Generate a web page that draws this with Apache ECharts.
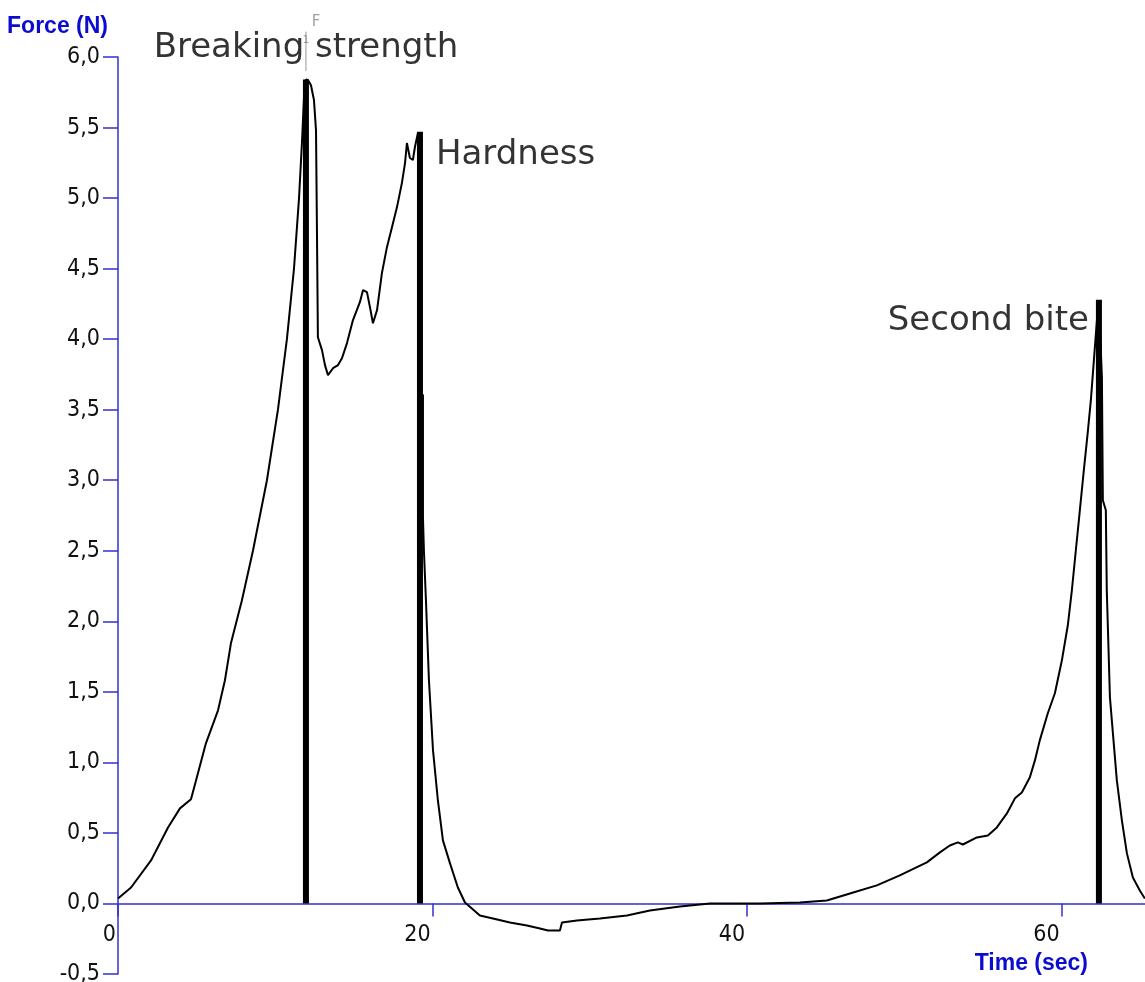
<!DOCTYPE html>
<html>
<head>
<meta charset="utf-8">
<script src="https://cdn.jsdelivr.net/npm/echarts@6/dist/echarts.min.js"></script>
<style>
html,body{margin:0;padding:0;background:#fff;}
#chart{width:1145px;height:982px;}
</style>
</head>
<body>
<div id="chart"></div>
<script>
// Time (sec) and force (N)
const timeSec = [0.00,0.83,2.10,3.18,3.94,4.64,4.96,5.59,6.36,6.80,7.18,7.88,8.58,9.47,10.17,10.74,11.19,11.51,11.70,11.82,11.95,12.08,12.27,12.46,12.59,12.65,12.71,12.97,13.16,13.35,13.67,13.99,14.24,14.56,14.94,15.38,15.58,15.83,16.02,16.21,16.47,16.78,17.10,17.42,17.74,18.05,18.25,18.37,18.56,18.75,18.88,19.07,19.20,19.26,19.39,19.39,19.45,19.58,19.77,20.03,20.34,20.66,21.11,21.61,22.06,22.50,23.01,23.84,24.92,26.00,26.83,27.34,28.10,28.23,29.18,30.64,32.36,33.82,35.73,37.64,40.81,43.36,45.07,46.54,48.25,49.71,51.43,52.26,52.89,53.40,53.72,54.61,55.31,55.88,56.52,57.03,57.47,57.98,58.30,58.61,59.12,59.57,60.01,60.39,60.65,60.90,61.16,61.41,61.67,61.86,62.05,62.24,62.36,62.56,62.62,62.81,62.87,63.07,63.26,63.51,63.83,64.15,64.53,64.97,65.29];
const forceN = [0.035,0.113,0.305,0.539,0.674,0.738,0.872,1.135,1.369,1.582,1.844,2.149,2.500,3.000,3.500,4.000,4.500,5.000,5.400,5.700,5.840,5.837,5.800,5.695,5.480,4.770,4.014,3.922,3.816,3.745,3.794,3.816,3.865,3.972,4.135,4.262,4.348,4.333,4.227,4.113,4.206,4.468,4.652,4.794,4.936,5.106,5.248,5.390,5.284,5.270,5.362,5.461,5.447,3.617,3.603,2.738,2.504,2.149,1.582,1.085,0.730,0.447,0.284,0.113,0.007,-0.035,-0.085,-0.106,-0.135,-0.156,-0.177,-0.191,-0.191,-0.135,-0.121,-0.106,-0.085,-0.050,-0.021,0.000,0.000,0.007,0.021,0.071,0.128,0.199,0.291,0.362,0.411,0.433,0.418,0.468,0.482,0.539,0.638,0.745,0.787,0.894,1.014,1.156,1.348,1.490,1.720,1.970,2.220,2.500,2.790,3.070,3.350,3.570,3.850,4.130,4.277,3.730,2.858,2.787,2.220,1.461,1.206,0.872,0.589,0.355,0.184,0.092,0.035];

// Marked events (thick bars)
const markerTime = [11.95, 19.20, 62.37];
const markerForce = [5.84, 5.47, 4.28];
const markerLabels = ['Breaking strength', 'Hardness', 'Second bite'];

// Small gray annotation near first peak
const noteTime = [11.95, 12.60];
const noteForce = [6.12, 6.25];
const noteText = ['1', 'F'];

// Axis ticks
const xTicks = [0, 20, 40, 60];
const yTicks = [-0.5,0,0.5,1,1.5,2,2.5,3,3.5,4,4.5,5,5.5,6];
const yMin = -0.5, yMax = 6;

const AXIS_BLUE = '#3232cc';
const TITLE_BLUE = '#0c0cd0';
const TICK_FONT = '"Liberation Sans Narrow","DejaVu Sans Condensed",sans-serif';
const ANNOT_FONT = '"DejaVu Sans",sans-serif';

const GRID_TOP = 57, GRID_BOTTOM = 8, H = 982;
const plotH = H - GRID_TOP - GRID_BOTTOM;
// shift the x axis from the grid bottom up to the zero line
const xAxisOffset = -plotH * (0 - yMin) / (yMax - yMin);

const curve = timeSec.map((t, i) => [t, forceN[i]]);
const labelPos = [
  {position: 'top', distance: 14, offset: [0, 0]},
  {position: 'right', distance: 16, offset: [0, 23]},
  {position: 'left', distance: 10, offset: [0, 22]}
];

const chart = echarts.init(document.getElementById('chart'), null, {renderer: 'canvas'});
chart.setOption({
  animation: false,
  backgroundColor: '#ffffff',
  grid: {left: 118, top: GRID_TOP, right: 0, bottom: GRID_BOTTOM, containLabel: false, outerBoundsMode: 'none'},
  xAxis: {
    type: 'value',
    position: 'bottom',
    offset: xAxisOffset,
    min: 0, max: 65.3, interval: 20,
    axisLine: {onZero: false, lineStyle: {color: AXIS_BLUE, width: 1.5}},
    axisTick: {show: true, length: 13, customValues: xTicks, lineStyle: {color: AXIS_BLUE, width: 1.5}},
    axisLabel: {
      show: true, margin: 20, align: 'right', padding: [0, 2, 0, 0],
      showMaxLabel: false,
      color: '#111', fontFamily: TICK_FONT, fontSize: 23,
      formatter: v => xTicks.includes(v) ? String(v) : ''
    },
    splitLine: {show: false}
  },
  yAxis: {
    type: 'value',
    min: yMin, max: yMax, interval: 0.5,
    axisLine: {onZero: false, lineStyle: {color: AXIS_BLUE, width: 1.5}},
    axisTick: {show: true, length: 15, customValues: yTicks, lineStyle: {color: AXIS_BLUE, width: 1.5}},
    axisLabel: {
      margin: 18, color: '#111', fontFamily: TICK_FONT, fontSize: 23,
      formatter: v => v.toFixed(1).replace('.', ',')
    },
    splitLine: {show: false},
    name: 'Force (N)',
    nameLocation: 'end',
    nameGap: 19,
    nameTextStyle: {color: TITLE_BLUE, fontFamily: '"Liberation Sans",Arial,sans-serif', fontWeight: 'bold', fontSize: 23, align: 'right', padding: [0, 10, 0, 0]}
  },
  graphic: [{
    type: 'text', right: 57, top: 952,
    style: {text: 'Time (sec)', fill: TITLE_BLUE, font: 'bold 23px "Liberation Sans",Arial,sans-serif'}
  }],
  series: [
    {
      type: 'line', data: curve, showSymbol: false, symbol: 'none',
      lineStyle: {color: '#000', width: 2}, z: 3
    },
    {
      type: 'bar', data: markerTime.map((t, i) => [t, markerForce[i]]),
      barWidth: 6, itemStyle: {color: '#000'}, z: 4
    },
    {
      type: 'scatter', symbolSize: 0, clip: false, z: 5,
      data: markerTime.map((t, i) => ({
        value: [t, markerForce[i]],
        label: {show: true, formatter: markerLabels[i], color: '#000', position: labelPos[i].position, distance: labelPos[i].distance, offset: labelPos[i].offset}
      })),
      label: {color: '#000', fontFamily: ANNOT_FONT, fontSize: 34}
    },
    {
      type: 'line', clip: false, symbol: 'none', z: 2,
      data: [[noteTime[0], 5.9], [noteTime[0], 6.18]],
      lineStyle: {color: '#999', width: 1}
    },
    {
      type: 'scatter', symbolSize: 0, clip: false, z: 5,
      data: noteTime.map((t, i) => ({value: [t, noteForce[i]], label: {show: true, formatter: noteText[i], fontSize: i === 0 ? 11 : 15}})),
      label: {position: 'inside', color: '#888', fontFamily: '"DejaVu Sans",sans-serif'}
    }
  ]
});
</script>
</body>
</html>
